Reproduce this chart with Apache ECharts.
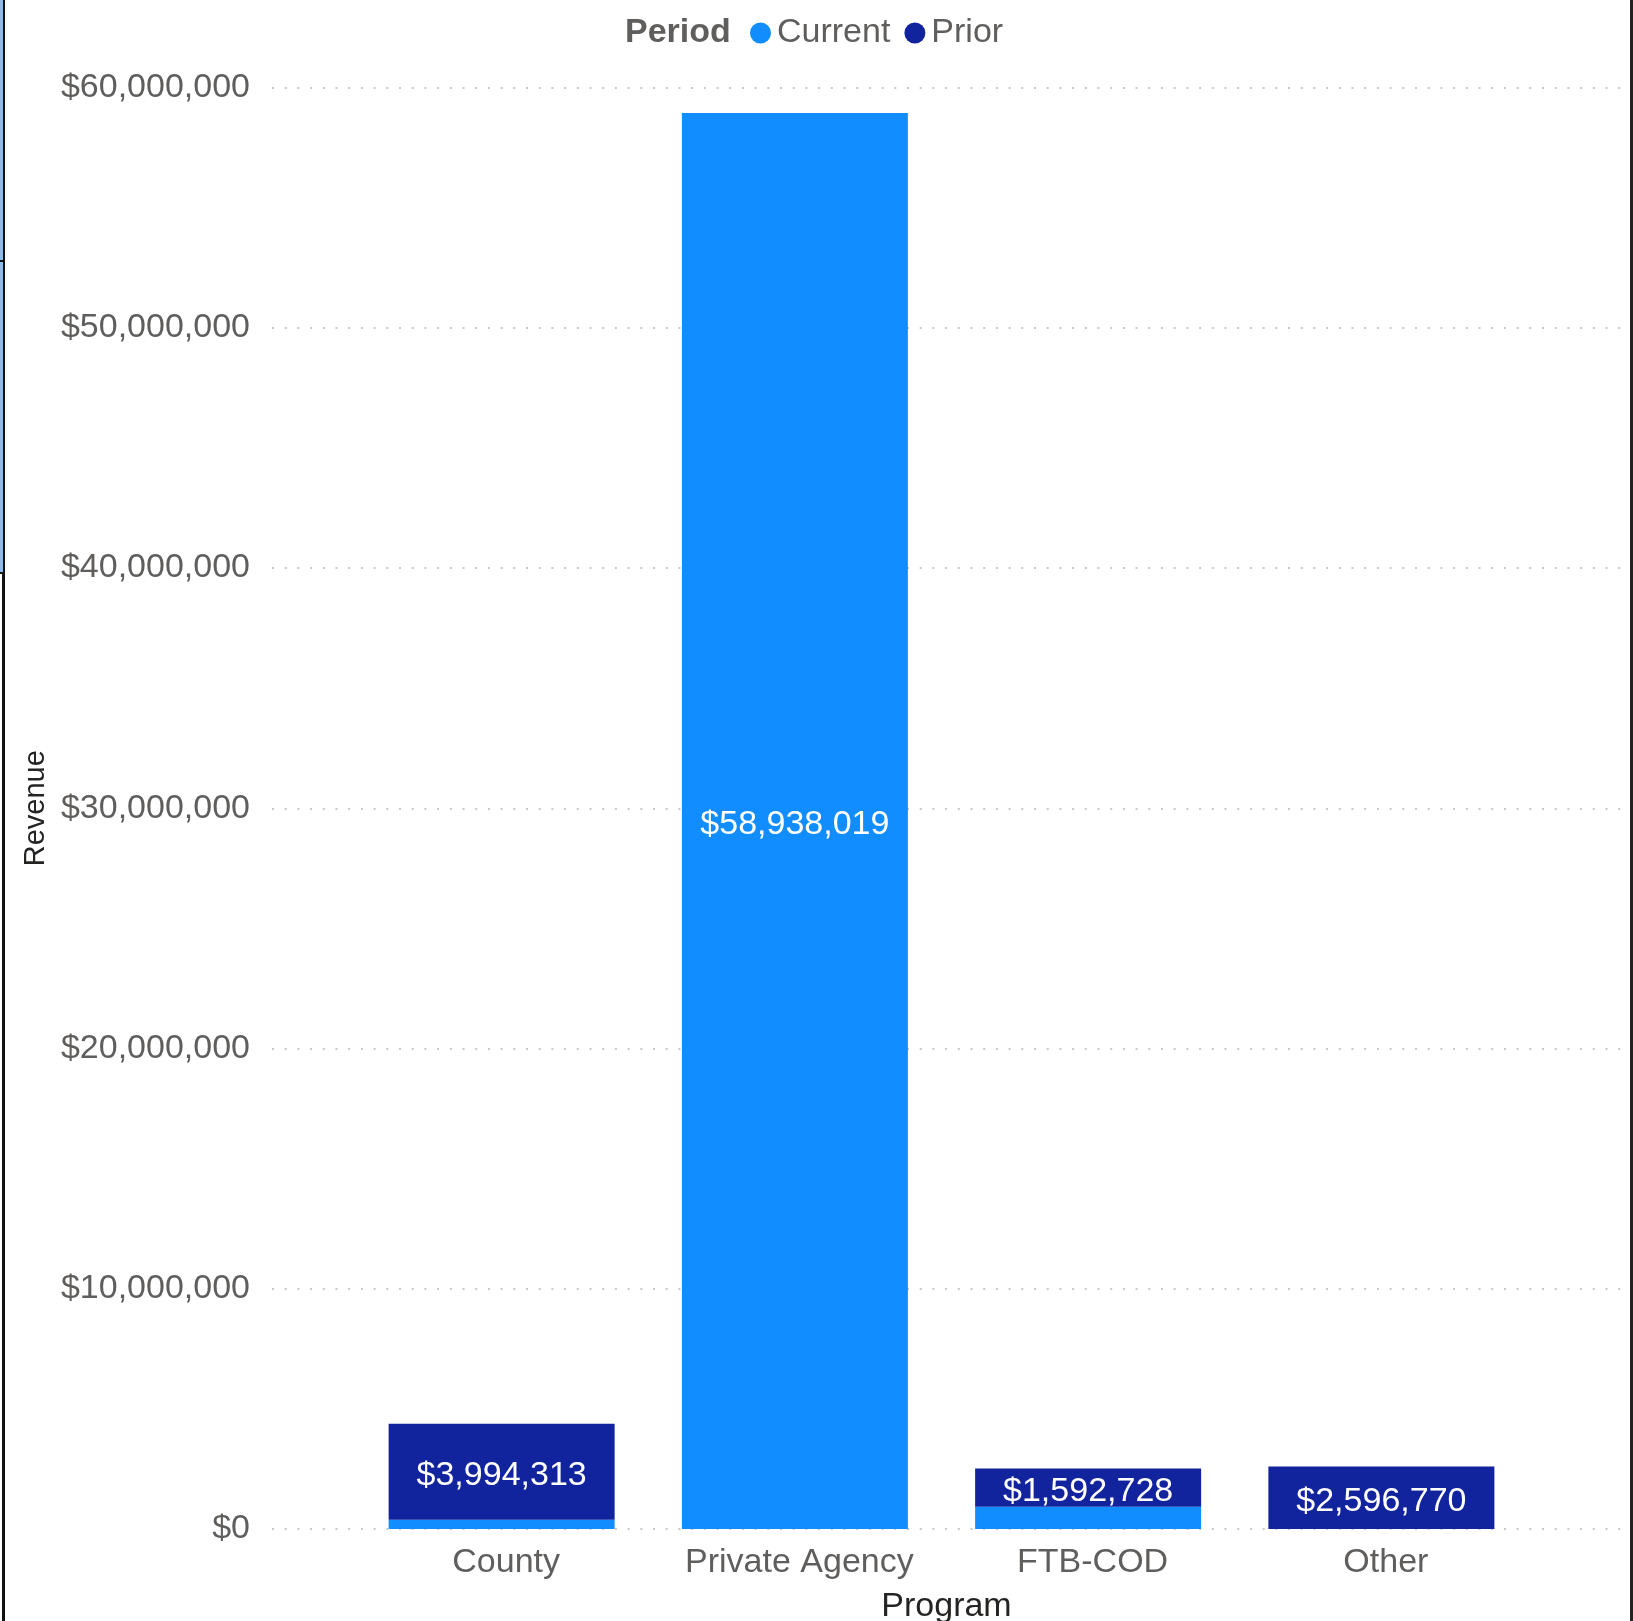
<!DOCTYPE html>
<html>
<head>
<meta charset="utf-8">
<script src="https://cdn.jsdelivr.net/npm/echarts@6/dist/echarts.min.js"></script>
<style>
  html, body { margin: 0; padding: 0; background: #ffffff; }
  #chart { width: 1633px; height: 1621px; }
</style>
</head>
<body>
<div id="chart"></div>
<script>
// ---- Data ----
const categories = ['County', 'Private Agency', 'FTB-COD', 'Other'];
const currentValues = [384000, 58938019, 921000, null];
const priorValues = [3994313, null, 1592728, 2596770];
const seriesNames = ['Current', 'Prior'];
const legendTitle = 'Period';
const yAxisTitle = 'Revenue';
const xAxisTitle = 'Program';
const yMin = 0, yMax = 60000000, yStep = 10000000;

// ---- Styles ----
const FONT = 'Liberation Sans, Arial, sans-serif';
const GRAY = '#605E5C';
const DARK = '#252423';
const C_CURRENT = '#118DFF';
const C_PRIOR = '#12239E';

function money(v) {
  return '$' + Math.round(v).toLocaleString('en-US');
}

const labelCfg = {
  show: true,
  position: 'inside',
  offset: [0, 4],
  color: '#ffffff',
  fontFamily: FONT,
  fontSize: 34,
  formatter: p => (p.value != null && p.value >= 1200000) ? money(p.value) : ''
};

const chart = echarts.init(document.getElementById('chart'), null, { renderer: 'canvas' });

const option = {
  animation: false,
  backgroundColor: '#ffffff',
  legend: {
    data: seriesNames,
    left: 750,
    top: 16,
    padding: 0,
    icon: 'circle',
    itemWidth: 21,
    itemHeight: 21,
    itemGap: 14,
    textStyle: { color: GRAY, fontFamily: FONT, fontSize: 34, padding: [0, 0, 0, 1] }
  },
  grid: [
    { left: 272, right: 12, top: 87.5, bottom: 92, containLabel: false, outerBoundsMode: 'none' },
    { left: 355, right: 105, top: 87.5, bottom: 92, containLabel: false, outerBoundsMode: 'none' }
  ],
  xAxis: [
    {
      gridIndex: 0, type: 'category', data: categories,
      axisLine: { show: false }, axisTick: { show: false }, axisLabel: { show: false },
      splitLine: { show: false },
      name: xAxisTitle, nameLocation: 'middle', nameGap: 61,
      nameTextStyle: { color: DARK, fontFamily: FONT, fontSize: 34 }
    },
    {
      gridIndex: 1, type: 'category', data: categories,
      axisLine: { show: false }, axisTick: { show: false },
      axisLabel: { interval: 0, hideOverlap: false, color: GRAY, fontFamily: FONT, fontSize: 34, margin: 14, padding: [3, 0, 0, 9] },
      splitLine: { show: false }
    }
  ],
  yAxis: [
    {
      gridIndex: 0, type: 'value', min: yMin, max: yMax, interval: yStep,
      axisLine: { show: false }, axisTick: { show: false },
      axisLabel: { color: GRAY, fontFamily: FONT, fontSize: 34, margin: 22, padding: [14, 0, 0, 0], formatter: v => money(v) },
      splitLine: { show: true, lineStyle: { color: '#c8c8c8', width: 2, type: [2, 10.7] } },
      name: yAxisTitle, nameLocation: 'middle', nameGap: 218,
      nameTextStyle: { color: DARK, fontFamily: FONT, fontSize: 29 }
    },
    {
      gridIndex: 1, type: 'value', min: yMin, max: yMax, interval: yStep, show: false
    }
  ],
  series: [
    {
      name: seriesNames[0], type: 'bar', stack: 'rev', xAxisIndex: 1, yAxisIndex: 1,
      data: currentValues, barWidth: 226, itemStyle: { color: C_CURRENT }, label: labelCfg
    },
    {
      name: seriesNames[1], type: 'bar', stack: 'rev', xAxisIndex: 1, yAxisIndex: 1,
      data: priorValues, barWidth: 226, itemStyle: { color: C_PRIOR }, label: labelCfg
    }
  ],
  graphic: [
    { type: 'text', left: 625, top: 16, z: 10,
      style: { text: legendTitle, font: 'bold 34px ' + FONT, fill: GRAY } },
    // frame edges from the original screenshot
    { type: 'rect', shape: { x: 3, y: 0, width: 2, height: 1621 }, style: { fill: '#111111' }, z: 20 },
    { type: 'rect', shape: { x: 0, y: 0, width: 3, height: 573 }, style: { fill: '#8DBBEA' }, z: 20 },
    { type: 'rect', shape: { x: 0, y: 260, width: 4, height: 2 }, style: { fill: '#111111' }, z: 20 },
    { type: 'rect', shape: { x: 0, y: 572, width: 4, height: 2 }, style: { fill: '#111111' }, z: 20 },
    { type: 'rect', shape: { x: 2, y: 574, width: 3, height: 1047 }, style: { fill: '#111111' }, z: 20 },
    { type: 'rect', shape: { x: 1630, y: 0, width: 3, height: 1621 }, style: { fill: '#222222' }, z: 20 }
  ]
};

chart.setOption(option);
</script>
</body>
</html>
